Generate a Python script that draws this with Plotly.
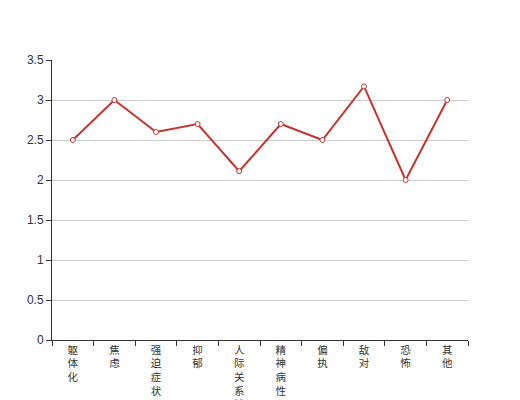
import plotly.graph_objects as go

categories = ["躯体化", "焦虑", "强迫症状", "抑郁", "人际关系敏感", "精神病性", "偏执", "敌对", "恐怖", "其他"]
values = [2.5, 3.0, 2.6, 2.7, 2.11, 2.7, 2.5, 3.17, 2.0, 3.0]
y_ticks = [0, 0.5, 1, 1.5, 2, 2.5, 3, 3.5]
y_tick_labels = ["0", "0.5", "1", "1.5", "2", "2.5", "3", "3.5"]

vertical_labels = ["<br>".join(list(c)) for c in categories]

fig = go.Figure()
fig.add_trace(go.Scatter(
    x=categories, y=values, mode="lines+markers",
    line=dict(color="#c23531", width=2),
    marker=dict(symbol="circle", size=5, color="white",
                line=dict(color="#c23531", width=1)),
    cliponaxis=False,
))

fig.update_layout(
    width=520, height=400,
    margin=dict(l=44, r=60, t=52, b=68),
    paper_bgcolor="white", plot_bgcolor="white",
    showlegend=False,
    font=dict(family="Liberation Sans, Noto Sans CJK SC, sans-serif", size=12, color="#333"),
    xaxis=dict(
        type="category", tickmode="array", tickvals=categories, ticktext=vertical_labels,
        tickson="boundaries", ticks="outside", ticklen=5, tickcolor="#333",
        showline=True, linecolor="#333", linewidth=1, showgrid=False,
        range=[-0.5, 9.5], tickangle=0, automargin=False,
        tickfont=dict(size=10.5, color="#333"),
    ),
    yaxis=dict(
        range=[0, 3.5], tickmode="array", tickvals=y_ticks, ticktext=y_tick_labels,
        ticks="outside", ticklen=5, tickcolor="#333", automargin=False,
        showline=True, linecolor="#333", linewidth=1,
        showgrid=True, gridcolor="#ccc", gridwidth=1, zeroline=False,
        tickfont=dict(size=12, color="#333"),
    ),
)

fig.write_html("out.html")
